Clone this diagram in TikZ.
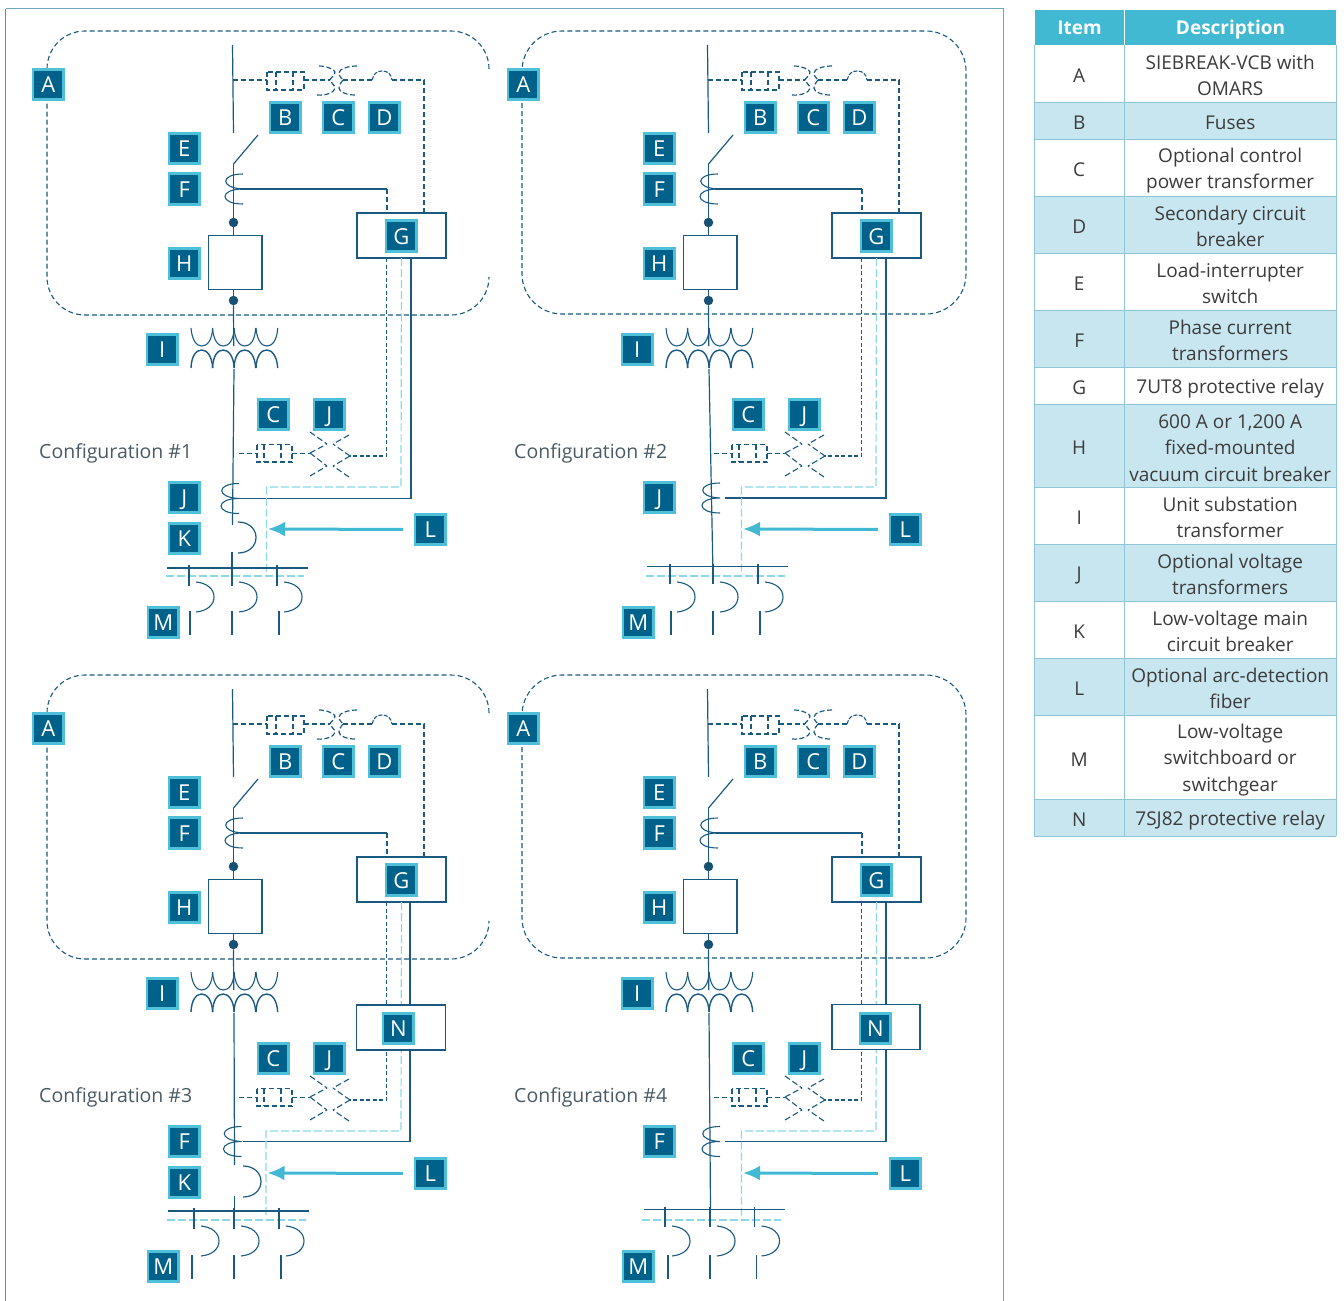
\documentclass[tikz,border=0pt]{standalone}
\usepackage{fontspec}
\setmainfont{Open Sans}
\usetikzlibrary{arrows.meta}
\definecolor{navy}{HTML}{1A5A80}
\definecolor{badgefill}{HTML}{00628A}
\definecolor{badgeedge}{HTML}{4FC0DA}
\definecolor{fibre}{HTML}{8AD8E8}
\definecolor{arrowc}{HTML}{41B9D3}
\definecolor{headc}{HTML}{41B9D3}
\definecolor{bandc}{HTML}{C8E6F0}
\definecolor{rulec}{HTML}{8FC6D6}
\definecolor{textc}{HTML}{3C3C3C}
\definecolor{labelc}{HTML}{4A5A64}
\tikzset{
  wire/.style={draw=navy,line width=1.2pt},
  ctrl/.style={draw=navy,line width=1.1pt,dash pattern=on 5pt off 3pt},
  fine/.style={draw=navy,line width=1.1pt,dash pattern=on 5pt off 3pt},
  outline/.style={draw=navy,line width=1.1pt,dash pattern=on 5pt off 3pt},
  fibreline/.style={draw=fibre,line width=1.2pt,dash pattern=on 8pt off 3pt},
  badge/.style={fill=badgefill,draw=badgeedge,line width=2.6pt,minimum size=30.5pt,inner sep=0pt,text=white,text height=16pt,text depth=0pt,font=\fontsize{22}{24}\selectfont},
  unitbox/.style={draw=navy,fill=white,line width=1.3pt,inner sep=0pt},
  dotnode/.style={circle,fill=navy!90!black,minimum size=9.5pt,inner sep=0pt},
  cfg/.style={anchor=west,text=labelc,inner sep=0pt,font=\fontsize{19.5}{24}\selectfont},
  fibrearrow/.style={draw=arrowc,line width=3pt,-{Latex[length=17pt,width=15pt]}},
  cellbase/.style={anchor=north west,inner sep=0pt},
  headcell/.style={anchor=north west,inner sep=0pt,fill=headc,text=white,draw=white,line width=1.2pt,text height=15pt,text depth=1pt,font=\bfseries\fontsize{19}{26}\selectfont},
}
\newcommand\Sa{\rule{0pt}{20pt}}
\newcommand\Sb{\rule[-2pt]{0pt}{2pt}}
\newcommand\Badge[4]{\node[badge] (\p#1) at (#2+.3,#3+.5) {#4};}
\newcommand\Ctcoil[2]{\draw[wire,line width=1.1pt]
  (#1,#2-15) .. controls (#1-23,#2-15) and (#1-23,#2-1) .. (#1,#2)
  .. controls (#1-24,#2) and (#1-24,#2+15) .. (#1,#2+15);}
\newcommand\PanelTop{%
  \draw[wire] (232.5,45) -- (233.5,133);
  \coordinate (\p tap) at (232.7,80);
  \coordinate (\p fa) at (267,80);
  \coordinate (\p fb) at (304,80);
  \coordinate (\p ta) at (330,80);
  \coordinate (\p tb) at (343,80);
  \coordinate (\p sa) at (372,80);
  \coordinate (\p sb) at (392,80);
  \coordinate (\p secr) at (424,80);
  \coordinate (\p sect) at (424,213);
  \draw[ctrl] (\p tap) -- (\p fa);
  \draw[fine] (267,72) rectangle (304,90) (276,72) -- (276,90) (293,72) -- (293,90);
  \draw[ctrl] (\p fb) -- (\p ta);
  \draw[fine,line width=1.2pt,dash pattern=on 5pt off 2.5pt] (319,66) .. controls (327,66) and (335,70) .. (335,72) .. controls (335,76) and (330,78) .. (\p ta)
     (317,95) .. controls (326,96) and (335,92) .. (335,88) .. controls (335,85) and (330,82) .. (\p ta)
     (357,66) .. controls (348,66) and (339,69) .. (339,73) .. controls (339,77) and (342,78) .. (\p tb)
     (355,95) .. controls (347,95) and (339,92) .. (339,88) .. controls (339,84) and (342,82) .. (\p tb);
  \draw[ctrl] (\p tb) -- (\p sa);
  \draw[fine,dash pattern=on 4pt off 1.5pt] (\p sa) .. controls (374,74) and (376,71) .. (382,71) .. controls (388,71) and (391,74) .. (\p sb);
  \draw[ctrl] (\p sb) -- (\p secr) -- (\p sect);
  \coordinate (\p swa) at (233.5,164);
  \coordinate (\p swb) at (258,135);
  \draw[wire] (\p swb) -- (\p swa);
  \node[unitbox,minimum width=53.5pt,minimum height=54pt] (\p h) at (235.2,262.3) {};
  \node[dotnode] (\p da) at (233.5,222.5) {};
  \node[dotnode] (\p db) at (233.5,300.5) {};
  \draw[wire] (\p swa) -- (\p da) -- (\p da |- \p h.north);
  \draw[wire] (\p db |- \p h.south) -- (\p db);
  \Ctcoil{243}{189}
  \node[unitbox,minimum width=89pt,minimum height=45pt] (\p g) at (401.5,235.5) {};
  \coordinate (\p cta) at (240,189);
  \coordinate (\p ctb) at (387,189);
  \coordinate (\p ctc) at (387,213);
  \draw[wire] (\p cta) -- (\p ctb);
  \draw[ctrl] (\p ctb) -- (\p ctc);
  \foreach \q in {191,212.5,234,256}{
    \draw[wire,line width=1.1pt] (\q,328) .. controls (\q+1,341) and (\q+6,346) .. (\q+10.7,346) .. controls (\q+16,346) and (\q+21,341) .. (\q+21.7,328);
    \draw[wire,line width=1.4pt] (\q,368) .. controls (\q+.5,356) and (\q+5,350) .. (\q+10.7,350) .. controls (\q+16,350) and (\q+21,356) .. (\q+21.7,368);
  }
  \draw[wire] (\p db) -- (233.7,346);
}
% arguments: solid bottom x, y, coil end, branch start x, branch y, right solid x
\newcommand\PanelLow[6]{%
  \coordinate (\p va) at (234,369);
  \coordinate (\p vb) at (#1,#2);
  \draw[wire] (\p va) -- (\p vb);
  \Ctcoil{#3}{#5}
  \coordinate (\p ba) at (#4,#5);
  \coordinate (\p bb) at (#6,#5);
  \coordinate (\p bc) at (#6,258);
  \draw[wire] (\p ba) -- (\p bb) -- (\p bc);
  % dashed secondary
  \coordinate (\p na) at (386.7,258);
  \coordinate (\p nb) at (386.7,456);
  \coordinate (\p nc) at (350,456);
  \draw[ctrl,dash pattern=on 4pt off 2.5pt] (\p na) -- (\p nb) -- (\p nc);
  % VT
  \draw[fine,dash pattern=on 6pt off 3pt]
    (310,432) -- (327,444) (349,435) -- (333,444)
    (310,476) -- (327,466) (349,477) -- (333,466)
    (310,453) -- (327,444) (310,453) -- (327,466)
    (350,456) -- (333,444) (350,456) -- (333,466);
  % fuse
  \draw[fine] (257,444.5) rectangle (292,462) (264,444.5) -- (264,462) (281,444.5) -- (281,462);
  \coordinate (\p la) at (239,453.5);
  \coordinate (\p lb) at (257,453.5);
  \coordinate (\p lc) at (292,453.5);
  \coordinate (\p ld) at (310,453.5);
  \draw[ctrl] (\p la) -- (\p lb) (\p lc) -- (\p ld);
}
% fibre path + arrow + bus + feeders: fibre x, left bus, bus y, dash left, dash right, x1, x2, x3, left stub offset
\newcommand\FibreBus[9]{%
  \coordinate (\p fa) at (401.5,258);
  \coordinate (\p fb) at (401,487);
  \coordinate (\p fc) at (#1,487);
  \coordinate (\p fd) at (#1,574);
  \draw[fibreline] (\p fa) -- (\p fb) -- (\p fc) -- (\p fd);
  \coordinate (\p fe) at (#4,576);
  \coordinate (\p ff) at (#5,576);
  \draw[fibreline] (\p fe) -- (\p ff);
  \coordinate (\p ga) at (#2,#3);
  \coordinate (\p gb) at (#2+140.5,#3);
  \draw[wire] (\p ga) -- (\p gb);
  \coordinate (\p tip) at (#1+1.5,529);
  \Badge{L}{430}{529}{L}
  \draw[fibrearrow,shorten <=11pt] (\p L.west) -- (\p tip);
  \foreach \q/\w in {#6/#9,#7/0,#8/2}{
    \draw[wire] (\q,#3-3) -- (\q,#3+17.5);
    \draw[wire] (\q+\w,611) -- (\q+\w,635);
    \draw[wire,line width=1.1pt] (\q+7,582) .. controls (\q+18,583) and (\q+25,589) .. (\q+25,597) .. controls (\q+25,605) and (\q+18,611) .. (\q+7,612);
  }
}
\newcommand\Kbrk[2]{%
  \draw[wire] (#1,552) -- (#1,566);
  \draw[wire] (#2,522) .. controls (#2+11,522) and (#2+18,529) .. (#2+18,537.5) .. controls (#2+18,546) and (#2+11,553) .. (#2,553);
}
\newcommand\Outline[2]{%
  \draw[outline,rounded corners=38pt] (#1,69) -- (#1,31) -- (47,31) -- (47,315) -- (#1,315) -- (#1,277);
}
\newcommand\OutlineClosed{%
  \draw[outline,rounded corners=40pt] (47,31) rectangle (491,314);
}
\newcommand\TopBadges{%
  \Badge{A}{48}{84}{A}
  \Badge{B}{285}{117}{B}
  \Badge{C}{338}{117}{C}
  \Badge{D}{384}{117}{D}
  \Badge{E}{184}{148}{E}
  \Badge{F}{184}{188.5}{F}
  \Badge{G}{401}{235.5}{G}
  \Badge{H}{184}{263}{H}
  \Badge{I}{162}{349}{I}
  \Badge{Cb}{273}{414}{C}
  \Badge{Jb}{329}{414}{J}
  \Badge{M}{163}{622}{M}
}
\newcommand\Trow[6]{%
  \node[cellbase,fill=#2,minimum width=90pt,minimum height=#4pt-#3pt] (ti#1) at (1034,#3) {};
  \node[cellbase,fill=#2,minimum width=212pt,minimum height=#4pt-#3pt] (td#1) at (1124,#3) {};
  \node[text=textc,inner sep=0pt,font=\fontsize{19}{26}\selectfont] (tx#1) at (ti#1.center) {\Sa #5\Sb};
  \node[text=textc,inner sep=0pt,align=center,font=\fontsize{19}{26.4}\selectfont] (ty#1) at (td#1.center) {\Sa #6\Sb};
}
\begin{document}
\begin{tikzpicture}[x=1pt,y=-1pt]
\useasboundingbox (0,0) rectangle (1344,1301);
% frame
\coordinate (fr1) at (5.5,1301);
\coordinate (fr2) at (5.5,8.5);
\coordinate (fr3) at (1003.5,8.5);
\coordinate (fr4) at (1003.5,1301);
\draw[draw=navy!70!white,line width=1.2pt] (fr1) -- (fr2);
\draw[draw=rulec!70!navy,line width=1.2pt] (fr2) -- (fr3) -- (fr4);

% Panel 1
\begin{scope}
\def\p{a}
\Outline{489}{}
\PanelTop
\PanelLow{232.5}{525}{239}{234}{498.5}{411}
\FibreBus{266.5}{167}{568}{166}{304}{189}{232}{277}{1}
\Kbrk{232}{238}
\TopBadges
\Badge{Jc}{184}{497}{J}
\Badge{K}{184}{538}{K}
\node[cfg] (acfg) at (39,453) {Configuration \#1};
\end{scope}

% Panel 2
\begin{scope}[shift={(475,0)}]
\def\p{b}
\OutlineClosed
\PanelTop
\PanelLow{238}{575}{245}{250}{498}{411}
\FibreBus{266.5}{172}{566.5}{171}{310}{195}{238}{283}{1}
\TopBadges
\Badge{Jc}{184}{497}{J}
\node[cfg] (bcfg) at (39,453) {Configuration \#2};
\end{scope}

% Panel 3
\begin{scope}[shift={(0,644)}]
\def\p{c}
\Outline{489}{}
\PanelTop
\PanelLow{234.5}{521}{241.5}{243}{497.5}{410}
\FibreBus{266}{168}{567}{167}{306}{194}{234}{279}{-2}
\Kbrk{234.5}{243}
\node[unitbox,minimum width=89pt,minimum height=45pt] (cn) at (401,383.5) {};
\TopBadges
\Badge{N}{398}{384}{N}
\Badge{Fc}{184}{497}{F}
\Badge{K}{184}{538}{K}
\node[cfg] (ccfg) at (39,453) {Configuration \#3};
\end{scope}

% Panel 4
\begin{scope}[shift={(475,644)}]
\def\p{d}
\OutlineClosed
\PanelTop
\PanelLow{235.5}{565}{245}{250}{497.5}{411}
\FibreBus{266.5}{169}{565.5}{167}{306}{190}{235}{279.5}{3}
\node[unitbox,minimum width=88pt,minimum height=45pt] (dn) at (401,383) {};
\TopBadges
\Badge{N}{400}{384}{N}
\Badge{Fc}{184}{497}{F}
\node[cfg] (dcfg) at (39,453) {Configuration \#4};
\end{scope}

% Table
\node[headcell,minimum width=90pt,minimum height=36pt] (thi) at (1034,9) {Item};
\node[headcell,minimum width=212pt,minimum height=36pt] (thd) at (1124,9) {Description};
\Trow{A}{white}{45}{102}{A}{SIEBREAK-VCB with\\OMARS}
\Trow{B}{bandc}{102}{139}{B}{Fuses}
\Trow{C}{white}{139}{196}{C}{Optional control\\power transformer}
\Trow{D}{bandc}{196}{253}{D}{Secondary circuit\\breaker}
\Trow{E}{white}{253}{310}{E}{Load-interrupter\\switch}
\Trow{F}{bandc}{310}{367}{F}{Phase current\\transformers}
\Trow{G}{white}{367}{404}{G}{7UT8 protective relay}
\Trow{H}{bandc}{404}{487}{H}{600 A or 1,200 A\\fixed-mounted\\vacuum circuit breaker}
\Trow{I}{white}{487}{544}{I}{Unit substation\\transformer}
\Trow{J}{bandc}{544}{601}{J}{Optional voltage\\transformers}
\Trow{K}{white}{601}{658}{K}{Low-voltage main\\circuit breaker}
\Trow{L}{bandc}{658}{715}{L}{Optional arc-detection\\fiber}
\Trow{M}{white}{715}{799}{M}{Low-voltage\\switchboard or\\switchgear}
\Trow{N}{bandc}{799}{836}{N}{7SJ82 protective relay}
\foreach \a/\b in {A/B,B/C,C/D,D/E,E/F,F/G,G/H,H/I,I/J,J/K,K/L,L/M,M/N}{
  \draw[rulec,line width=1pt] (ti\b.north west) -- (td\b.north east);
}
\draw[rulec,line width=1pt] (tiN.south west) -- (tdN.south east);
\draw[rulec,line width=1pt] (tiA.north west) -- (tiN.south west);
\draw[rulec,line width=1pt] (tiA.north east) -- (tiN.south east);
\draw[rulec,line width=1pt] (tdA.north east) -- (tdN.south east);
\end{tikzpicture}
\end{document}
